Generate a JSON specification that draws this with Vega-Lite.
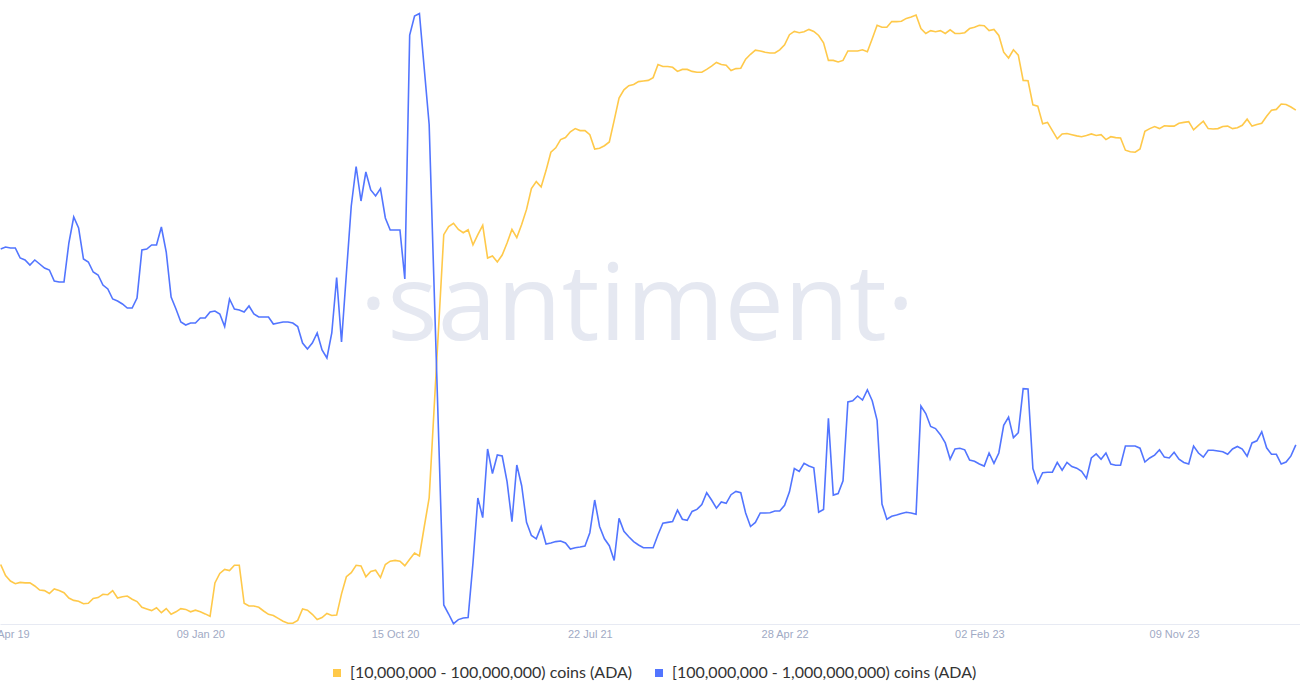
{
  "$schema": "https://vega.github.io/schema/vega-lite/v6.json",
  "width": 1300,
  "height": 624,
  "autosize": {"type": "none"},
  "padding": {"left": 0, "right": 0, "top": 0, "bottom": 76},
  "config": {"view": {"stroke": null}},
  "title": {
    "text": "·santiment·",
    "orient": "bottom",
    "frame": "group",
    "anchor": "middle",
    "offset": -343,
    "dx": -13,
    "baseline": "alphabetic",
    "font": "Open Sans",
    "fontSize": 106,
    "fontWeight": "normal",
    "color": "rgba(160,170,205,0.27)"
  },
  "data": {"values": [
{"date":"2019-03-28","t10M":4355,"t100M":7510},
{"date":"2019-04-04","t10M":4245,"t100M":7530},
{"date":"2019-04-11","t10M":4190,"t100M":7520},
{"date":"2019-04-18","t10M":4163,"t100M":7520},
{"date":"2019-04-25","t10M":4176,"t100M":7420},
{"date":"2019-05-02","t10M":4171,"t100M":7400},
{"date":"2019-05-09","t10M":4171,"t100M":7350},
{"date":"2019-05-16","t10M":4140,"t100M":7400},
{"date":"2019-05-23","t10M":4100,"t100M":7360},
{"date":"2019-05-30","t10M":4094,"t100M":7320},
{"date":"2019-06-06","t10M":4065,"t100M":7300},
{"date":"2019-06-13","t10M":4110,"t100M":7190},
{"date":"2019-06-20","t10M":4094,"t100M":7180},
{"date":"2019-06-27","t10M":4073,"t100M":7180},
{"date":"2019-07-04","t10M":4020,"t100M":7570},
{"date":"2019-07-11","t10M":3996,"t100M":7830},
{"date":"2019-07-18","t10M":3988,"t100M":7720},
{"date":"2019-07-25","t10M":3963,"t100M":7410},
{"date":"2019-08-01","t10M":3967,"t100M":7380},
{"date":"2019-08-08","t10M":4016,"t100M":7280},
{"date":"2019-08-15","t10M":4024,"t100M":7250},
{"date":"2019-08-22","t10M":4057,"t100M":7150},
{"date":"2019-08-29","t10M":4053,"t100M":7110},
{"date":"2019-09-05","t10M":4094,"t100M":7010},
{"date":"2019-09-12","t10M":4020,"t100M":6990},
{"date":"2019-09-19","t10M":4033,"t100M":6960},
{"date":"2019-09-26","t10M":4040,"t100M":6920},
{"date":"2019-10-03","t10M":4008,"t100M":6920},
{"date":"2019-10-10","t10M":3984,"t100M":7020},
{"date":"2019-10-17","t10M":3927,"t100M":7500},
{"date":"2019-10-24","t10M":3910,"t100M":7510},
{"date":"2019-10-31","t10M":3894,"t100M":7550},
{"date":"2019-11-07","t10M":3922,"t100M":7550},
{"date":"2019-11-14","t10M":3873,"t100M":7730},
{"date":"2019-11-21","t10M":3914,"t100M":7480},
{"date":"2019-11-28","t10M":3857,"t100M":7030},
{"date":"2019-12-05","t10M":3882,"t100M":6910},
{"date":"2019-12-12","t10M":3914,"t100M":6780},
{"date":"2019-12-19","t10M":3906,"t100M":6750},
{"date":"2019-12-26","t10M":3882,"t100M":6770},
{"date":"2020-01-02","t10M":3898,"t100M":6770},
{"date":"2020-01-09","t10M":3882,"t100M":6820},
{"date":"2020-01-16","t10M":3861,"t100M":6820},
{"date":"2020-01-23","t10M":3837,"t100M":6880},
{"date":"2020-01-30","t10M":4171,"t100M":6890},
{"date":"2020-02-06","t10M":4265,"t100M":6860},
{"date":"2020-02-13","t10M":4306,"t100M":6735},
{"date":"2020-02-20","t10M":4294,"t100M":7010},
{"date":"2020-02-27","t10M":4347,"t100M":6910},
{"date":"2020-03-05","t10M":4347,"t100M":6900},
{"date":"2020-03-12","t10M":3967,"t100M":6880},
{"date":"2020-03-19","t10M":3940,"t100M":6940},
{"date":"2020-03-26","t10M":3940,"t100M":6860},
{"date":"2020-04-02","t10M":3927,"t100M":6830},
{"date":"2020-04-09","t10M":3890,"t100M":6830},
{"date":"2020-04-16","t10M":3857,"t100M":6830},
{"date":"2020-04-23","t10M":3845,"t100M":6760},
{"date":"2020-04-30","t10M":3816,"t100M":6770},
{"date":"2020-05-07","t10M":3788,"t100M":6780},
{"date":"2020-05-14","t10M":3767,"t100M":6780},
{"date":"2020-05-21","t10M":3767,"t100M":6770},
{"date":"2020-05-28","t10M":3796,"t100M":6735},
{"date":"2020-06-04","t10M":3910,"t100M":6570},
{"date":"2020-06-11","t10M":3898,"t100M":6510},
{"date":"2020-06-18","t10M":3857,"t100M":6570},
{"date":"2020-06-25","t10M":3804,"t100M":6670},
{"date":"2020-07-02","t10M":3824,"t100M":6500},
{"date":"2020-07-09","t10M":3865,"t100M":6420},
{"date":"2020-07-16","t10M":3845,"t100M":6670},
{"date":"2020-07-23","t10M":3849,"t100M":7225},
{"date":"2020-07-30","t10M":4061,"t100M":6580},
{"date":"2020-08-06","t10M":4233,"t100M":7265},
{"date":"2020-08-13","t10M":4273,"t100M":7940},
{"date":"2020-08-20","t10M":4347,"t100M":8335},
{"date":"2020-08-27","t10M":4340,"t100M":7990},
{"date":"2020-09-03","t10M":4233,"t100M":8280},
{"date":"2020-09-10","t10M":4286,"t100M":8100},
{"date":"2020-09-17","t10M":4298,"t100M":8040},
{"date":"2020-09-24","t10M":4224,"t100M":8114},
{"date":"2020-10-01","t10M":4355,"t100M":7820},
{"date":"2020-10-08","t10M":4388,"t100M":7700},
{"date":"2020-10-15","t10M":4396,"t100M":7700},
{"date":"2020-10-22","t10M":4388,"t100M":7700},
{"date":"2020-10-29","t10M":4343,"t100M":7210},
{"date":"2020-11-05","t10M":4408,"t100M":9650},
{"date":"2020-11-12","t10M":4470,"t100M":9840},
{"date":"2020-11-19","t10M":4440,"t100M":9865},
{"date":"2020-11-26","t10M":4735,"t100M":9310},
{"date":"2020-12-03","t10M":5020,"t100M":8755},
{"date":"2020-12-10","t10M":5900,"t100M":7150},
{"date":"2020-12-17","t10M":6780,"t100M":5550},
{"date":"2020-12-24","t10M":7653,"t100M":3950},
{"date":"2020-12-31","t10M":7735,"t100M":3860},
{"date":"2021-01-07","t10M":7767,"t100M":3763},
{"date":"2021-01-14","t10M":7706,"t100M":3804},
{"date":"2021-01-21","t10M":7673,"t100M":3820},
{"date":"2021-01-28","t10M":7702,"t100M":3824},
{"date":"2021-02-04","t10M":7551,"t100M":4370},
{"date":"2021-02-11","t10M":7653,"t100M":5020},
{"date":"2021-02-18","t10M":7747,"t100M":4824},
{"date":"2021-02-25","t10M":7420,"t100M":5510},
{"date":"2021-03-04","t10M":7440,"t100M":5265},
{"date":"2021-03-11","t10M":7380,"t100M":5450},
{"date":"2021-03-18","t10M":7450,"t100M":5440},
{"date":"2021-03-25","t10M":7570,"t100M":5184},
{"date":"2021-04-01","t10M":7706,"t100M":4784},
{"date":"2021-04-08","t10M":7624,"t100M":5350},
{"date":"2021-04-15","t10M":7755,"t100M":5143},
{"date":"2021-04-22","t10M":7906,"t100M":4776},
{"date":"2021-04-29","t10M":8114,"t100M":4645},
{"date":"2021-05-06","t10M":8184,"t100M":4612},
{"date":"2021-05-13","t10M":8130,"t100M":4735},
{"date":"2021-05-20","t10M":8294,"t100M":4560},
{"date":"2021-05-27","t10M":8478,"t100M":4570},
{"date":"2021-06-03","t10M":8522,"t100M":4584},
{"date":"2021-06-10","t10M":8604,"t100M":4590},
{"date":"2021-06-17","t10M":8624,"t100M":4570},
{"date":"2021-06-24","t10M":8682,"t100M":4510},
{"date":"2021-07-01","t10M":8714,"t100M":4522},
{"date":"2021-07-08","t10M":8694,"t100M":4530},
{"date":"2021-07-15","t10M":8694,"t100M":4540},
{"date":"2021-07-22","t10M":8653,"t100M":4673},
{"date":"2021-07-29","t10M":8510,"t100M":5000},
{"date":"2021-08-05","t10M":8518,"t100M":4735},
{"date":"2021-08-12","t10M":8543,"t100M":4612},
{"date":"2021-08-19","t10M":8580,"t100M":4543},
{"date":"2021-08-26","t10M":8796,"t100M":4396},
{"date":"2021-09-02","t10M":9020,"t100M":4816},
{"date":"2021-09-09","t10M":9102,"t100M":4686},
{"date":"2021-09-16","t10M":9143,"t100M":4633},
{"date":"2021-09-23","t10M":9155,"t100M":4584},
{"date":"2021-09-30","t10M":9184,"t100M":4550},
{"date":"2021-10-07","t10M":9190,"t100M":4522},
{"date":"2021-10-14","t10M":9196,"t100M":4522},
{"date":"2021-10-21","t10M":9224,"t100M":4522},
{"date":"2021-10-28","t10M":9355,"t100M":4653},
{"date":"2021-11-04","t10M":9335,"t100M":4767},
{"date":"2021-11-11","t10M":9335,"t100M":4776},
{"date":"2021-11-18","t10M":9327,"t100M":4784},
{"date":"2021-11-25","t10M":9286,"t100M":4898},
{"date":"2021-12-02","t10M":9306,"t100M":4808},
{"date":"2021-12-09","t10M":9306,"t100M":4796},
{"date":"2021-12-16","t10M":9286,"t100M":4886},
{"date":"2021-12-23","t10M":9278,"t100M":4906},
{"date":"2021-12-30","t10M":9278,"t100M":4955},
{"date":"2022-01-06","t10M":9306,"t100M":5073},
{"date":"2022-01-13","t10M":9339,"t100M":5000},
{"date":"2022-01-20","t10M":9376,"t100M":4918},
{"date":"2022-01-27","t10M":9355,"t100M":4980},
{"date":"2022-02-03","t10M":9347,"t100M":4967},
{"date":"2022-02-10","t10M":9294,"t100M":5053},
{"date":"2022-02-17","t10M":9314,"t100M":5086},
{"date":"2022-02-24","t10M":9318,"t100M":5073},
{"date":"2022-03-03","t10M":9408,"t100M":4870},
{"date":"2022-03-10","t10M":9457,"t100M":4735},
{"date":"2022-03-17","t10M":9498,"t100M":4776},
{"date":"2022-03-24","t10M":9490,"t100M":4870},
{"date":"2022-03-31","t10M":9478,"t100M":4870},
{"date":"2022-04-07","t10M":9470,"t100M":4873},
{"date":"2022-04-14","t10M":9470,"t100M":4890},
{"date":"2022-04-21","t10M":9502,"t100M":4890},
{"date":"2022-04-28","t10M":9551,"t100M":4947},
{"date":"2022-05-05","t10M":9653,"t100M":5082},
{"date":"2022-05-12","t10M":9686,"t100M":5314},
{"date":"2022-05-19","t10M":9673,"t100M":5286},
{"date":"2022-05-26","t10M":9682,"t100M":5367},
{"date":"2022-06-02","t10M":9706,"t100M":5340},
{"date":"2022-06-09","t10M":9686,"t100M":5322},
{"date":"2022-06-16","t10M":9645,"t100M":4878},
{"date":"2022-06-23","t10M":9571,"t100M":4906},
{"date":"2022-06-30","t10M":9396,"t100M":5816},
{"date":"2022-07-07","t10M":9396,"t100M":5049},
{"date":"2022-07-14","t10M":9380,"t100M":5065},
{"date":"2022-07-21","t10M":9396,"t100M":5192},
{"date":"2022-07-28","t10M":9490,"t100M":5980},
{"date":"2022-08-04","t10M":9490,"t100M":5992},
{"date":"2022-08-11","t10M":9490,"t100M":6040},
{"date":"2022-08-18","t10M":9502,"t100M":6000},
{"date":"2022-08-25","t10M":9482,"t100M":6102},
{"date":"2022-09-01","t10M":9612,"t100M":5992},
{"date":"2022-09-08","t10M":9747,"t100M":5796},
{"date":"2022-09-15","t10M":9727,"t100M":4960},
{"date":"2022-09-22","t10M":9727,"t100M":4808},
{"date":"2022-09-29","t10M":9784,"t100M":4837},
{"date":"2022-10-06","t10M":9784,"t100M":4849},
{"date":"2022-10-13","t10M":9788,"t100M":4865},
{"date":"2022-10-20","t10M":9816,"t100M":4878},
{"date":"2022-10-27","t10M":9829,"t100M":4870},
{"date":"2022-11-03","t10M":9849,"t100M":4857},
{"date":"2022-11-10","t10M":9714,"t100M":5939},
{"date":"2022-11-17","t10M":9665,"t100M":5865},
{"date":"2022-11-24","t10M":9694,"t100M":5735},
{"date":"2022-12-01","t10M":9682,"t100M":5714},
{"date":"2022-12-08","t10M":9694,"t100M":5653},
{"date":"2022-12-15","t10M":9665,"t100M":5571},
{"date":"2022-12-22","t10M":9702,"t100M":5408},
{"date":"2022-12-29","t10M":9665,"t100M":5510},
{"date":"2023-01-05","t10M":9665,"t100M":5518},
{"date":"2023-01-12","t10M":9673,"t100M":5502},
{"date":"2023-01-19","t10M":9714,"t100M":5400},
{"date":"2023-01-26","t10M":9727,"t100M":5388},
{"date":"2023-02-02","t10M":9747,"t100M":5360},
{"date":"2023-02-09","t10M":9743,"t100M":5339},
{"date":"2023-02-16","t10M":9694,"t100M":5470},
{"date":"2023-02-23","t10M":9706,"t100M":5367},
{"date":"2023-03-02","t10M":9645,"t100M":5470},
{"date":"2023-03-09","t10M":9478,"t100M":5747},
{"date":"2023-03-16","t10M":9420,"t100M":5829},
{"date":"2023-03-23","t10M":9502,"t100M":5624},
{"date":"2023-03-30","t10M":9449,"t100M":5673},
{"date":"2023-04-06","t10M":9196,"t100M":6114},
{"date":"2023-04-13","t10M":9192,"t100M":6110},
{"date":"2023-04-20","t10M":8951,"t100M":5314},
{"date":"2023-04-27","t10M":8939,"t100M":5171},
{"date":"2023-05-04","t10M":8763,"t100M":5273},
{"date":"2023-05-11","t10M":8776,"t100M":5278},
{"date":"2023-05-18","t10M":8694,"t100M":5278},
{"date":"2023-05-25","t10M":8612,"t100M":5376},
{"date":"2023-06-01","t10M":8661,"t100M":5298},
{"date":"2023-06-08","t10M":8665,"t100M":5376},
{"date":"2023-06-15","t10M":8653,"t100M":5335},
{"date":"2023-06-22","t10M":8641,"t100M":5318},
{"date":"2023-06-29","t10M":8633,"t100M":5286},
{"date":"2023-07-06","t10M":8645,"t100M":5216},
{"date":"2023-07-13","t10M":8661,"t100M":5420},
{"date":"2023-07-20","t10M":8645,"t100M":5461},
{"date":"2023-07-27","t10M":8653,"t100M":5408},
{"date":"2023-08-03","t10M":8604,"t100M":5470},
{"date":"2023-08-10","t10M":8633,"t100M":5360},
{"date":"2023-08-17","t10M":8624,"t100M":5347},
{"date":"2023-08-24","t10M":8620,"t100M":5347},
{"date":"2023-08-31","t10M":8498,"t100M":5540},
{"date":"2023-09-07","t10M":8482,"t100M":5540},
{"date":"2023-09-14","t10M":8478,"t100M":5540},
{"date":"2023-09-21","t10M":8510,"t100M":5518},
{"date":"2023-09-28","t10M":8686,"t100M":5380},
{"date":"2023-10-05","t10M":8714,"t100M":5420},
{"date":"2023-10-12","t10M":8735,"t100M":5449},
{"date":"2023-10-19","t10M":8714,"t100M":5502},
{"date":"2023-10-26","t10M":8743,"t100M":5429},
{"date":"2023-11-02","t10M":8739,"t100M":5420},
{"date":"2023-11-09","t10M":8739,"t100M":5478},
{"date":"2023-11-16","t10M":8767,"t100M":5408},
{"date":"2023-11-23","t10M":8776,"t100M":5376},
{"date":"2023-11-30","t10M":8784,"t100M":5360},
{"date":"2023-12-07","t10M":8702,"t100M":5540},
{"date":"2023-12-14","t10M":8747,"t100M":5470},
{"date":"2023-12-21","t10M":8788,"t100M":5429},
{"date":"2023-12-28","t10M":8714,"t100M":5498},
{"date":"2024-01-04","t10M":8710,"t100M":5498},
{"date":"2024-01-11","t10M":8714,"t100M":5490},
{"date":"2024-01-18","t10M":8735,"t100M":5482},
{"date":"2024-01-25","t10M":8739,"t100M":5457},
{"date":"2024-02-01","t10M":8714,"t100M":5510},
{"date":"2024-02-08","t10M":8722,"t100M":5535},
{"date":"2024-02-15","t10M":8747,"t100M":5510},
{"date":"2024-02-22","t10M":8808,"t100M":5437},
{"date":"2024-02-29","t10M":8739,"t100M":5571},
{"date":"2024-03-07","t10M":8755,"t100M":5592},
{"date":"2024-03-14","t10M":8767,"t100M":5682},
{"date":"2024-03-21","t10M":8837,"t100M":5522},
{"date":"2024-03-28","t10M":8898,"t100M":5457},
{"date":"2024-04-04","t10M":8906,"t100M":5457},
{"date":"2024-04-11","t10M":8960,"t100M":5360},
{"date":"2024-04-18","t10M":8955,"t100M":5380},
{"date":"2024-04-25","t10M":8930,"t100M":5441},
{"date":"2024-05-02","t10M":8898,"t100M":5551}
  ]},
  "transform": [{"fold": ["t10M", "t100M"], "as": ["series", "value"]}],
  "mark": {"type": "line", "strokeWidth": 1.6},
  "encoding": {
    "x": {
      "field": "date", "type": "temporal",
      "scale": {"domain": [{"year": 2019, "month": 3, "date": 27}, {"year": 2024, "month": 5, "date": 8}]},
      "axis": {
        "title": null,
        "values": [
          {"year": 2019, "month": 4, "date": 4},
          {"year": 2020, "month": 1, "date": 9},
          {"year": 2020, "month": 10, "date": 15},
          {"year": 2021, "month": 7, "date": 22},
          {"year": 2022, "month": 4, "date": 28},
          {"year": 2023, "month": 2, "date": 2},
          {"year": 2023, "month": 11, "date": 9}
        ],
        "format": "%d %b %y",
        "grid": false,
        "ticks": false,
        "domainColor": "#E7EAF3",
        "labelFont": "Liberation Sans",
        "labelFontSize": 11,
        "labelColor": "#9FAAC4",
        "labelPadding": 4,
        "labelFlush": false,
        "labelOverlap": false
      }
    },
    "y": {"field": "value", "type": "quantitative", "scale": {"domain": [3760, 10000], "nice": false, "zero": false}, "axis": null},
    "color": {
      "field": "series",
      "type": "nominal",
      "scale": {"domain": ["t10M", "t100M"], "range": ["#FFC94A", "#5275FF"]},
      "legend": {
        "orient": "none",
        "legendX": 329,
        "legendY": 665,
        "title": null,
        "direction": "horizontal",
        "symbolType": "square",
        "symbolSize": 16,
        "symbolStrokeWidth": 4,
        "labelFont": "Lato",
        "labelFontSize": 16,
        "labelColor": "#333333",
        "labelOffset": 5,
        "labelLimit": 400,
        "columnPadding": 16,
        "labelExpr": "datum.value == 't10M' ? '[10,000,000 - 100,000,000) coins (ADA)' : '[100,000,000 - 1,000,000,000) coins (ADA)'"
      }
    }
  }
}
